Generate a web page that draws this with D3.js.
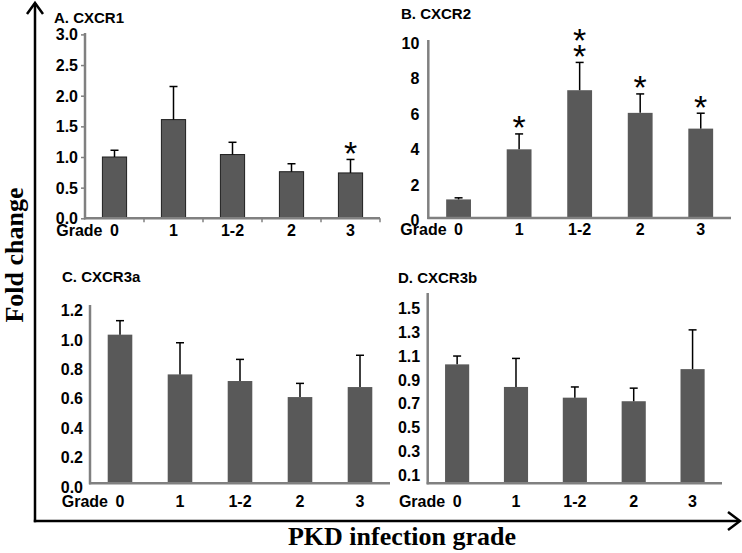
<!DOCTYPE html>
<html><head><meta charset="utf-8">
<script src="https://cdn.jsdelivr.net/npm/d3@7"></script>
<style>body{margin:0;background:#fff}svg{display:block}</style>
</head><body>
<script>
// ---------- data ----------
const grades = ["0", "1", "1-2", "2", "3"];
const cxcr1Mean = [1.00, 1.61, 1.04, 0.76, 0.74];
const cxcr1Err  = [0.11, 0.54, 0.20, 0.13, 0.22];
const cxcr1Stars = [0, 0, 0, 0, 1];
const cxcr2Mean = [1.05, 3.88, 7.22, 5.94, 5.05];
const cxcr2Err  = [0.09, 0.87, 1.57, 1.07, 0.87];
const cxcr2Stars = [0, 1, 2, 1, 1];
const cxcr3aMean = [1.01, 0.74, 0.695, 0.586, 0.654];
const cxcr3aErr  = [0.095, 0.215, 0.147, 0.093, 0.216];
const cxcr3aStars = [0, 0, 0, 0, 0];
const cxcr3bMean = [1.00, 0.81, 0.72, 0.69, 0.96];
const cxcr3bErr  = [0.07, 0.24, 0.09, 0.11, 0.33];
const cxcr3bStars = [0, 0, 0, 0, 0];
const ticksA = [0, 0.5, 1.0, 1.5, 2.0, 2.5, 3.0];
const ticksB = [0, 2, 4, 6, 8, 10];
const ticksC = [0, 0.2, 0.4, 0.6, 0.8, 1.0, 1.2];
const ticksD = [0.1, 0.3, 0.5, 0.7, 0.9, 1.1, 1.3, 1.5];
const titles = ["A. CXCR1", "B. CXCR2", "C. CXCR3a", "D. CXCR3b"];
const gradeWord = "Grade";
const yTitle = "Fold change";
const xTitle = "PKD infection grade";

// ---------- layout ----------
const W = 742, H = 553;
const svg = d3.select("body").append("svg").attr("width", W).attr("height", H);
const SANS = "'Liberation Sans', Arial, sans-serif";
const SERIF = "'Liberation Serif', 'Times New Roman', serif";
const AXIS = "#808080", BAR = "#595959";
const LAB = 16;

const panels = [
  {title: titles[0], mean: cxcr1Mean, err: cxcr1Err, stars: cxcr1Stars, ticks: ticksA, fmt: d3.format(".1f"),
   domain: [0, 3], x0: 85, x1: 380, y0: 218.3, y1: 34.4, top: 33, titleX: 54, titleY: 23, labDy: 0, catY: 236,
   tickMarks: true, pad: 3, barStroke: "#1e1e1e"},
  {title: titles[1], mean: cxcr2Mean, err: cxcr2Err, stars: cxcr2Stars, ticks: ticksB, fmt: d3.format("d"),
   domain: [0, 10], x0: 428.3, x1: 731, y0: 218, y1: 41, top: 40, titleX: 401, titleY: 19, labDy: 2, catY: 235,
   tickMarks: false, pad: 9, barStroke: null},
  {title: titles[2], mean: cxcr3aMean, err: cxcr3aErr, stars: cxcr3aStars, ticks: ticksC, fmt: d3.format(".1f"),
   domain: [0, 1.2], x0: 90, x1: 390, y0: 483.3, y1: 306.7, top: 305, titleX: 62, titleY: 282, labDy: 3.5, catY: 507,
   tickMarks: false, pad: 7, barStroke: null},
  {title: titles[3], mean: cxcr3bMean, err: cxcr3bErr, stars: cxcr3bStars, ticks: ticksD, fmt: d3.format(".1f"),
   domain: [0, 1.6], x0: 427.7, x1: 722, y0: 483.3, y1: 293, top: 293, titleX: 398, titleY: 283, labDy: 3.5, catY: 507,
   tickMarks: false, pad: 7.5, barStroke: null}
];

panels.forEach(p => {
  const g = svg.append("g");
  const x = d3.scaleBand().domain(grades).range([p.x0, p.x1]).paddingInner(0.59).paddingOuter(0.295);
  const y = d3.scaleLinear().domain(p.domain).range([p.y0, p.y1]);
  const rows = grades.map((c, i) => ({c, m: p.mean[i], e: p.err[i], s: p.stars[i]}));
  const cx = d => x(d.c) + x.bandwidth() / 2;

  // title
  g.append("text").attr("x", p.titleX).attr("y", p.titleY)
    .attr("font-family", SANS).attr("font-weight", "bold").attr("font-size", 15)
    .attr("fill", "#000").text(p.title);

  // bars
  g.selectAll("rect.bar").data(rows).join("rect").attr("class", "bar")
    .attr("x", d => x(d.c)).attr("width", x.bandwidth())
    .attr("y", d => y(d.m)).attr("height", d => y(0) - y(d.m))
    .attr("fill", BAR)
    .attr("stroke", p.barStroke || "none").attr("stroke-width", p.barStroke ? 1 : 0);

  // error bars (upper only)
  const eb = g.selectAll("g.err").data(rows).join("g").attr("class", "err");
  eb.append("line")
    .attr("x1", cx).attr("x2", cx)
    .attr("y1", d => y(d.m)).attr("y2", d => y(d.m + d.e))
    .attr("stroke", "#000").attr("stroke-width", 1.5);
  eb.append("line")
    .attr("x1", d => cx(d) - 4).attr("x2", d => cx(d) + 4)
    .attr("y1", d => y(d.m + d.e)).attr("y2", d => y(d.m + d.e))
    .attr("stroke", "#000").attr("stroke-width", 1.5);

  // significance stars (one text per bar, stacked with tspans)
  rows.filter(d => d.s > 0).forEach(d => {
    const t = g.append("text")
      .attr("text-anchor", "middle")
      .attr("font-family", SANS).attr("font-size", 34).attr("fill", "#000");
    for (let k = d.s - 1; k >= 0; k--) {
      t.append("tspan")
        .attr("x", cx(d))
        .attr("y", y(d.m + d.e) + 5.5 - k * 16)
        .text("*");
    }
  });

  // y axis
  const yAxis = d3.axisLeft(y).tickValues(p.ticks).tickFormat(p.fmt)
    .tickSizeInner(p.tickMarks ? 4 : 0).tickSizeOuter(0).tickPadding(p.pad);
  const ya = g.append("g").attr("transform", `translate(${p.x0},0)`).call(yAxis);
  ya.select(".domain").remove();
  ya.selectAll(".tick line").attr("stroke", AXIS).attr("stroke-width", 1.5);
  ya.selectAll(".tick text").attr("font-family", SANS).attr("font-weight", "bold")
    .attr("font-size", LAB).attr("fill", "#000").attr("dy", (0.34 * LAB + p.labDy) + "px");
  g.append("line").attr("x1", p.x0).attr("x2", p.x0).attr("y1", p.top).attr("y2", p.y0 + 1)
    .attr("stroke", AXIS).attr("stroke-width", 2.5);

  // x axis
  const xa = g.append("g").attr("transform", `translate(0,${p.y0})`)
    .call(d3.axisBottom(x).tickSize(0).tickPadding(0));
  xa.select(".domain").remove();
  xa.selectAll(".tick text").attr("font-family", SANS).attr("font-weight", "bold")
    .attr("font-size", LAB).attr("fill", "#000").attr("dy", null)
    .attr("y", p.catY - p.y0);
  g.append("line").attr("x1", p.x0 - 1).attr("x2", p.x1).attr("y1", p.y0).attr("y2", p.y0)
    .attr("stroke", AXIS).attr("stroke-width", 2.5);
  if (p.tickMarks) {
    const step = x.step();
    d3.range(1, grades.length + 1).forEach(i => {
      const xx = p.x0 + i * step;
      g.append("line").attr("x1", xx).attr("x2", xx).attr("y1", p.y0).attr("y2", p.y0 + 4)
        .attr("stroke", AXIS).attr("stroke-width", 1.5);
    });
  }
  // "Grade" word before the first category
  g.append("text").attr("x", x(grades[0]) + x.bandwidth() / 2 - 12).attr("y", p.catY)
    .attr("text-anchor", "end").attr("font-family", SANS).attr("font-weight", "bold")
    .attr("font-size", LAB).attr("fill", "#000").text(gradeWord);
});

// ---------- outer frame with arrows ----------
const fx = 35, fy = 521;
svg.append("line").attr("x1", fx).attr("x2", fx).attr("y1", fy + 1.2).attr("y2", 3)
  .attr("stroke", "#000").attr("stroke-width", 2.5);
svg.append("line").attr("x1", fx - 1.2).attr("x2", 739).attr("y1", fy).attr("y2", fy)
  .attr("stroke", "#000").attr("stroke-width", 2.5);
svg.append("path").attr("d", `M${fx - 8},${14} L${fx},${3} L${fx + 8},${14}`)
  .attr("fill", "none").attr("stroke", "#000").attr("stroke-width", 2.5);
svg.append("path").attr("d", `M${728},${fy - 9} L${740},${fy} L${728},${fy + 9}`)
  .attr("fill", "none").attr("stroke", "#000").attr("stroke-width", 2.5);

svg.append("text").attr("transform", `translate(23,255) rotate(-90)`)
  .attr("text-anchor", "middle").attr("font-family", SERIF).attr("font-weight", "bold")
  .attr("font-size", 26).attr("fill", "#000").text(yTitle);
svg.append("text").attr("x", 402).attr("y", 545)
  .attr("text-anchor", "middle").attr("font-family", SERIF).attr("font-weight", "bold")
  .attr("font-size", 26).attr("fill", "#000").text(xTitle);
</script>
</body></html>
